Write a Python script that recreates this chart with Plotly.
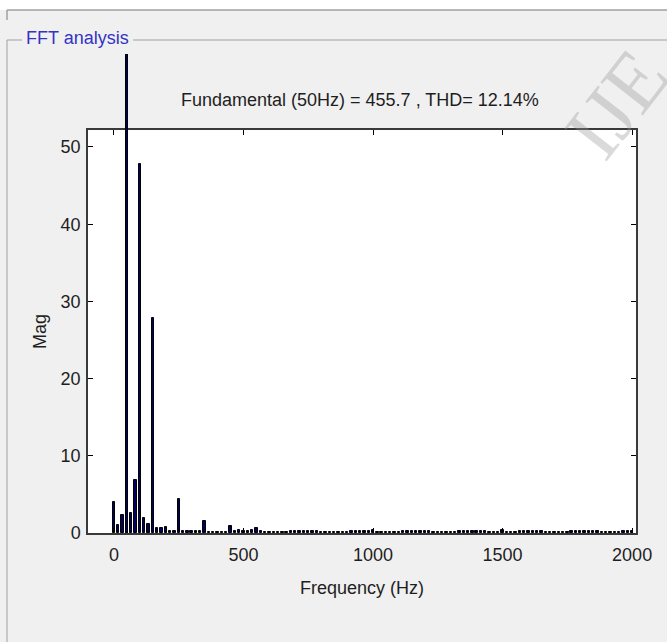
import plotly.graph_objects as go

# ---- data ----
freq_step = 50 / 3  # FFT bin spacing (Hz), 3-cycle window
fundamental_hz = 50
fundamental_mag = 455.7
thd_pct = 12.14

mag = [
    4.05, 1.0, 2.3, 455.7, 2.6, 6.9, 47.8, 1.9, 1.2, 27.8,        # 0 .. 150 Hz
    0.6, 0.6, 0.8, 0.2, 0.2, 4.4, 0.25, 0.2, 0.25, 0.2,           # 166 .. 316
    0.25, 1.6, 0.1, 0.1, 0.1, 0.1, 0.1, 0.95, 0.2, 0.4,           # 333 .. 483
    0.3, 0.3, 0.4, 0.6, 0.2, 0.1, 0.1, 0.1, 0.1, 0.1,             # 500 .. 650
    0.1, 0.3, 0.25, 0.3, 0.25, 0.3, 0.25, 0.3, 0.1, 0.1,          # 666 .. 816
    0.1, 0.1, 0.1, 0.1, 0.1, 0.3, 0.25, 0.3, 0.25, 0.3,           # 833 .. 983
    0.35, 0.1, 0.1, 0.1, 0.1, 0.1, 0.1, 0.3, 0.25, 0.3,           # 1000 .. 1150
    0.25, 0.3, 0.25, 0.3, 0.1, 0.1, 0.1, 0.1, 0.1, 0.1,           # 1166 .. 1316
    0.3, 0.25, 0.3, 0.25, 0.3, 0.25, 0.3, 0.1, 0.1, 0.1,          # 1333 .. 1483
    0.35, 0.1, 0.1, 0.1, 0.3, 0.25, 0.3, 0.25, 0.3, 0.25,         # 1500 .. 1650
    0.1, 0.1, 0.1, 0.1, 0.1, 0.1, 0.3, 0.25, 0.3, 0.25,           # 1666 .. 1816
    0.3, 0.25, 0.3, 0.1, 0.1, 0.1, 0.1, 0.1, 0.3, 0.25,           # 1833 .. 1983
    0.3,                                                          # 2000
]
freqs = [i * freq_step for i in range(len(mag))]
fund_idx = [i for i, f in enumerate(freqs) if abs(f - fundamental_hz) < 1e-6]

x_ticks = [0, 500, 1000, 1500, 2000]
y_ticks = [0, 10, 20, 30, 40, 50]
x_range = [-100, 2015]
y_top = 52.2

# ---- geometry ----
W, H = 667, 642
L, R, T, B = 88, 31, 54, 109
pw, ph = W - L - R, H - T - B
plot_top_px = 130
main_dom_top = (H - B - plot_top_px) / ph
y2_top = y_top / main_dom_top


def px(xp):
    return (xp - L) / pw


def py(yp):
    return (H - B - yp) / ph


FONT = "Liberation Sans, Arial, sans-serif"
bar_w = freq_step * 0.55
navy = "#000060"

fig = go.Figure()
fig.add_trace(go.Bar(
    x=freqs, y=mag, width=bar_w,
    marker=dict(color=navy, line=dict(color="black", width=1)),
    xaxis="x", yaxis="y", showlegend=False, hoverinfo="x+y",
))
fig.add_trace(go.Bar(
    x=[freqs[i] for i in fund_idx], y=[mag[i] for i in fund_idx], width=bar_w,
    marker=dict(color=navy, line=dict(color="black", width=1)),
    xaxis="x", yaxis="y2", showlegend=False, hoverinfo="x+y",
))

axis_common = dict(
    showgrid=False, zeroline=False, ticks="inside", ticklen=5,
    tickcolor="black", tickwidth=1, showline=True, linecolor="#3a3a3a",
    linewidth=1.5, mirror="ticks",
    tickfont=dict(family=FONT, size=18, color="#1e1e1e"),
)

fig.update_layout(
    width=W, height=H,
    margin=dict(l=L, r=R, t=T, b=B, pad=0),
    paper_bgcolor="#f0f0f0",
    plot_bgcolor="rgba(0,0,0,0)",
    bargap=0,
    xaxis=dict(
        range=x_range, tickvals=x_ticks, ticktext=[str(v) for v in x_ticks],
        anchor="y", ticklabelstandoff=5,
        title=dict(text="Frequency (Hz)", standoff=17,
                   font=dict(family=FONT, size=18, color="#1e1e1e")),
        **axis_common,
    ),
    yaxis=dict(
        range=[0, y_top], domain=[0, main_dom_top], tickvals=y_ticks,
        anchor="x", ticklabelstandoff=2,
        title=dict(text="Mag", standoff=9,
                   font=dict(family=FONT, size=18, color="#1e1e1e")),
        **axis_common,
    ),
    yaxis2=dict(
        range=[0, y2_top], domain=[0, 1], anchor="x", visible=False,
        showgrid=False, zeroline=False,
    ),
    shapes=[
        # white plot area
        dict(type="rect", xref="x domain", yref="y domain", x0=0, x1=1, y0=0, y1=1,
             fillcolor="white", line=dict(width=0), layer="below"),
        # white strip at top of window
        dict(type="rect", xref="paper", yref="paper", x0=px(0), x1=px(W),
             y0=py(10), y1=py(0), fillcolor="white", line=dict(width=0), layer="below"),
        # window frame lines
        dict(type="line", xref="paper", yref="paper", x0=px(7), x1=px(W),
             y0=py(10), y1=py(10), line=dict(color="#a0a0a0", width=1.5)),
        dict(type="line", xref="paper", yref="paper", x0=px(7), x1=px(7),
             y0=py(10), y1=py(20), line=dict(color="#a0a0a0", width=1.5)),
        # group box
        dict(type="line", xref="paper", yref="paper", x0=px(7), x1=px(22),
             y0=py(40), y1=py(40), line=dict(color="#a0a0a0", width=1)),
        dict(type="line", xref="paper", yref="paper", x0=px(133), x1=px(W),
             y0=py(40), y1=py(40), line=dict(color="#a0a0a0", width=1)),
        dict(type="line", xref="paper", yref="paper", x0=px(7), x1=px(7),
             y0=py(40), y1=py(H), line=dict(color="#a0a0a0", width=1)),
    ],
    annotations=[
        dict(text=f"Fundamental ({fundamental_hz}Hz) = {fundamental_mag} , THD= {thd_pct}%",
             xref="paper", yref="paper", x=px(360), y=py(100),
             xanchor="center", yanchor="middle", showarrow=False,
             font=dict(family=FONT, size=18, color="#1e1e1e")),
        dict(text="FFT analysis", xref="paper", yref="paper", x=px(24), y=py(38),
             xanchor="left", yanchor="middle", showarrow=False,
             font=dict(family=FONT, size=18, color="#3434c4")),
        dict(text="IJE", xref="paper", yref="paper", x=px(616), y=py(104),
             xanchor="center", yanchor="middle", showarrow=False, textangle=-52,
             font=dict(family="Liberation Serif, Times New Roman, serif", size=82,
                       color="rgba(150,150,150,0.35)")),
    ],
)

fig.write_html("out.html")
